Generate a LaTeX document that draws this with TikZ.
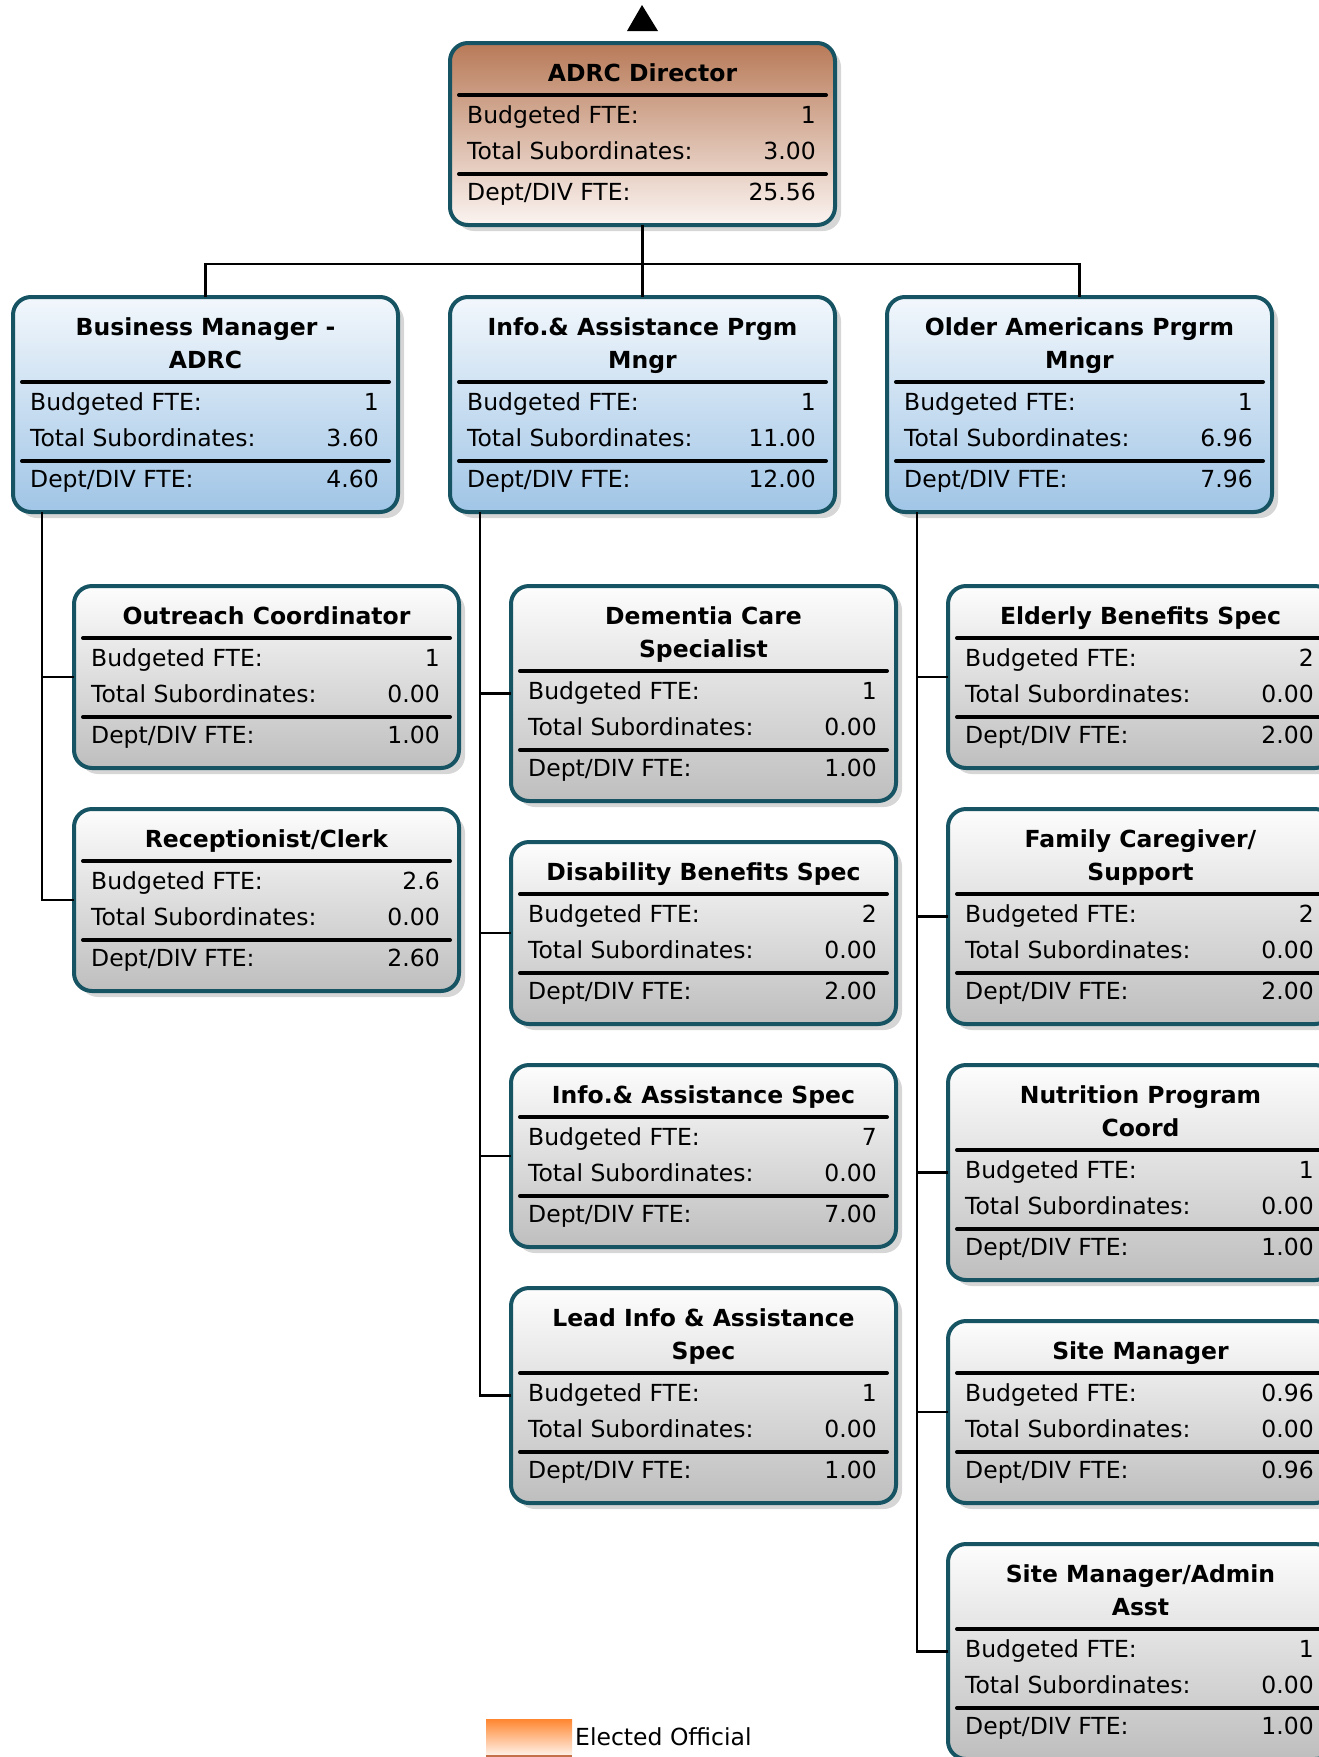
\documentclass[tikz,border=0pt]{standalone}
\usepackage{fontspec}
\setmainfont{DejaVu Sans}
\usepackage{xcolor}
\usetikzlibrary{shadows}

\definecolor{boxedge}{RGB}{22,84,100}
\definecolor{dirtop}{RGB}{184,122,88}
\definecolor{dirbot}{RGB}{251,244,241}
\definecolor{mgrtop}{RGB}{242,247,252}
\definecolor{mgrbot}{RGB}{160,197,230}
\definecolor{stafftop}{RGB}{253,253,253}
\definecolor{staffbot}{RGB}{190,190,190}
\definecolor{electtop}{RGB}{255,134,48}
\definecolor{electbot}{RGB}{255,244,236}
\definecolor{electline}{RGB}{196,112,72}

\newcommand{\chartsize}{\fontsize{23.5pt}{28pt}\selectfont}

\tikzset{
    posbox/.style={draw=boxedge, line width=4pt, rounded corners=18pt,
        minimum width=385pt, inner sep=0pt, outer sep=0pt, anchor=north west,
        drop shadow={shadow xshift=6pt, shadow yshift=-6pt, fill=black!16, opacity=1}},
    dirfill/.style={top color=dirtop, bottom color=dirbot},
    mgrfill/.style={top color=mgrtop, bottom color=mgrbot},
    stafffill/.style={top color=stafftop, bottom color=staffbot},
    ttl/.style={font=\chartsize\bfseries, anchor=base, inner sep=0pt},
    lbl/.style={anchor=base west, inner sep=0pt},
    val/.style={anchor=base east, inner sep=0pt},
    rulebar/.style={line width=4pt, line cap=round},
    orgline/.style={line width=2.5pt},
}

% position box: name, top left, fill, title line 1, title line 2, rule offset, budgeted, subordinates, dept/div
\newcommand{\posbox}[9]{%
    \node[posbox, #3, minimum height={(#6+130)*1pt}] (#1) at #2 {};
    \begin{scope}[shift={(#1.north west)}]
        \node[ttl] (#1-t1) at (192.5,38) {#4};
        \node[ttl] (#1-t2) at (192.5,71) {#5};
        \draw[rulebar] (9,#6) -- (376,#6);
        \node[lbl] (#1-bl) at (17,#6+28) {Budgeted FTE:};
        \node[val] (#1-bv) at (366,#6+28) {#7};
        \node[lbl] (#1-sl) at (17,#6+64) {Total Subordinates:};
        \node[val] (#1-sv) at (366,#6+64) {#8};
        \draw[rulebar] (9,#6+79) -- (376,#6+79);
        \node[lbl] (#1-dl) at (17,#6+105) {Dept/DIV FTE:};
        \node[val] (#1-dv) at (366,#6+105) {#9};
    \end{scope}
}

\begin{document}
\begin{tikzpicture}[x=1pt, y=-1pt, font=\chartsize]
    \useasboundingbox (0,0) rectangle (1319,1757);
    \clip (0,0) rectangle (1319,1757);

    % Director
    \fill (627,31) -- (642,5) -- (658,31) -- cycle;
    \posbox{dir}{(450,43)}{dirfill}{ADRC Director}{}{52}{1}{3.00}{25.56}

    % Managers
    \posbox{bm}{(13,297)}{mgrfill}{Business Manager -}{ADRC}{85}{1}{3.60}{4.60}
    \posbox{iapm}{(450,297)}{mgrfill}{Info.\& Assistance Prgm}{Mngr}{85}{1}{11.00}{12.00}
    \posbox{oapm}{(887,297)}{mgrfill}{Older Americans Prgrm}{Mngr}{85}{1}{6.96}{7.96}

    % Business Manager staff
    \posbox{oc}{(74,586)}{stafffill}{Outreach Coordinator}{}{52}{1}{0.00}{1.00}
    \posbox{rc}{(74,809)}{stafffill}{Receptionist/Clerk}{}{52}{2.6}{0.00}{2.60}

    % Info & Assistance staff
    \posbox{dcs}{(511,586)}{stafffill}{Dementia Care}{Specialist}{85}{1}{0.00}{1.00}
    \posbox{dbs}{(511,842)}{stafffill}{Disability Benefits Spec}{}{52}{2}{0.00}{2.00}
    \posbox{ias}{(511,1065)}{stafffill}{Info.\& Assistance Spec}{}{52}{7}{0.00}{7.00}
    \posbox{lias}{(511,1288)}{stafffill}{Lead Info \& Assistance}{Spec}{85}{1}{0.00}{1.00}

    % Older Americans staff
    \posbox{ebs}{(948,586)}{stafffill}{Elderly Benefits Spec}{}{52}{2}{0.00}{2.00}
    \posbox{fcs}{(948,809)}{stafffill}{Family Caregiver/}{Support}{85}{2}{0.00}{2.00}
    \posbox{npc}{(948,1065)}{stafffill}{Nutrition Program}{Coord}{85}{1}{0.00}{1.00}
    \posbox{sm}{(948,1321)}{stafffill}{Site Manager}{}{52}{0.96}{0.00}{0.96}
    \posbox{sma}{(948,1544)}{stafffill}{Site Manager/Admin}{Asst}{85}{1}{0.00}{1.00}

    % Reporting lines
    \draw[orgline] (dir.south) -- (iapm.north);
    \draw[orgline] (bm.north) -- ++(0,-33) -| (oapm.north);
    \draw[orgline] ([xshift=29pt]bm.south west) |- (oc.west);
    \draw[orgline] ([xshift=29pt]bm.south west) |- (rc.west);
    \draw[orgline] ([xshift=30pt]iapm.south west) |- (dcs.west);
    \draw[orgline] ([xshift=30pt]iapm.south west) |- (dbs.west);
    \draw[orgline] ([xshift=30pt]iapm.south west) |- (ias.west);
    \draw[orgline] ([xshift=30pt]iapm.south west) |- (lias.west);
    \draw[orgline] ([xshift=30pt]oapm.south west) |- (ebs.west);
    \draw[orgline] ([xshift=30pt]oapm.south west) |- (fcs.west);
    \draw[orgline] ([xshift=30pt]oapm.south west) |- (npc.west);
    \draw[orgline] ([xshift=30pt]oapm.south west) |- (sm.west);
    \draw[orgline] ([xshift=30pt]oapm.south west) |- (sma.west);

    % Legend
    \node[anchor=north west, minimum width=86pt, minimum height=37pt, inner sep=0pt, outer sep=0pt,
        top color=electtop, bottom color=electbot] (elect) at (486,1719) {};
    \draw[electline, line width=1.5pt] (elect.south west) -- (elect.south east);
    \node[lbl] (elect-txt) at (575,1745) {Elected Official};
\end{tikzpicture}
\end{document}
